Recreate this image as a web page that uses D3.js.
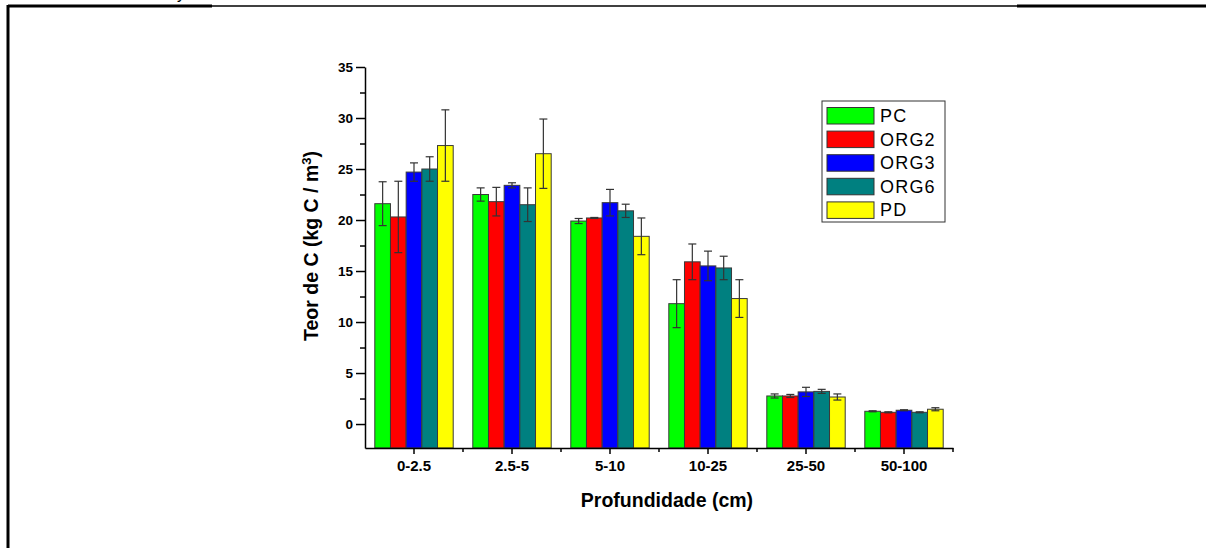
<!DOCTYPE html>
<html>
<head>
<meta charset="utf-8">
<script src="https://cdn.jsdelivr.net/npm/d3@7"></script>
<style>
  body { margin: 0; background: #fff; }
  svg { display: block; font-family: "Liberation Sans", Arial, sans-serif; }
</style>
</head>
<body>
<svg id="chart" width="1216" height="548"></svg>
<script>
// Depth classes (x categories)
var categories = ["0-2.5", "2.5-5", "5-10", "10-25", "25-50", "50-100"];
var seriesNames = ["PC", "ORG2", "ORG3", "ORG6", "PD"];
var seriesColors = ["#00ff00", "#ff0000", "#0000ff", "#008080", "#ffff00"];

// Means and error (half-width)
var pcValues   = [21.6, 22.5, 19.9, 11.8, 2.75, 1.25];
var pcErr      = [2.15, 0.65, 0.25, 2.35, 0.2, 0.05];
var org2Values = [20.3, 21.8, 20.2, 15.9, 2.75, 1.15];
var org2Err    = [3.5, 1.4, 0.05, 1.75, 0.15, 0.05];
var org3Values = [24.7, 23.4, 21.7, 15.5, 3.15, 1.35];
var org3Err    = [0.9, 0.25, 1.3, 1.45, 0.45, 0.05];
var org6Values = [25.0, 21.5, 20.9, 15.3, 3.2, 1.15];
var org6Err    = [1.2, 1.65, 0.65, 1.15, 0.2, 0.05];
var pdValues   = [27.3, 26.5, 18.4, 12.3, 2.65, 1.45];
var pdErr      = [3.5, 3.4, 1.8, 1.85, 0.3, 0.15];

var yTicks = [0, 5, 10, 15, 20, 25, 30, 35];
var yMinorTicks = [2.5, 7.5, 12.5, 17.5, 22.5, 27.5, 32.5];

var allValues = [pcValues, org2Values, org3Values, org6Values, pdValues];
var allErr    = [pcErr, org2Err, org3Err, org6Err, pdErr];

// Flatten into records for the bars
var records = [];
categories.forEach(function(cat, i) {
    seriesNames.forEach(function(s, j) {
        records.push({ cat: cat, series: s, value: allValues[j][i], err: allErr[j][i], color: seriesColors[j] });
    });
});

var svg = d3.select("#chart");

// Page frame (document border around the figure)
svg.append("line").attr("x1", 8).attr("x2", 212).attr("y1", 6).attr("y2", 6)
    .style("stroke", "#000").style("stroke-width", 3);
svg.append("line").attr("x1", 212).attr("x2", 1017).attr("y1", 6).attr("y2", 6)
    .style("stroke", "#000").style("stroke-width", 1.5);
svg.append("line").attr("x1", 1017).attr("x2", 1206).attr("y1", 6).attr("y2", 6)
    .style("stroke", "#000").style("stroke-width", 3);
svg.append("line").attr("x1", 8).attr("x2", 8).attr("y1", 5).attr("y2", 548)
    .style("stroke", "#000").style("stroke-width", 3);
svg.append("text").attr("x", 177).attr("y", -1).style("font-size", "16px").text("y");

// Plot area
var plotL = 365, plotR = 953, plotT = 67, plotB = 448;
var yMin = -2.35;

var x = d3.scaleBand().domain(categories).range([plotL, plotR]).paddingInner(0).paddingOuter(0);
var xInner = d3.scaleBand().domain(seriesNames)
    .range([x.bandwidth() * 0.1, x.bandwidth() * 0.9]).padding(0);
var y = d3.scaleLinear().domain([yMin, 35]).range([plotB, plotT]);

// Bars
var bars = svg.append("g");
bars.selectAll("rect")
    .data(records)
    .enter().append("rect")
    .attr("x", d => x(d.cat) + xInner(d.series))
    .attr("y", d => y(d.value))
    .attr("width", xInner.bandwidth())
    .attr("height", d => y(yMin) - y(d.value))
    .style("fill", d => d.color)
    .style("stroke", "#3a3a3a")
    .style("stroke-width", 1);

// Error bars
var errG = svg.append("g").style("stroke", "#333").style("stroke-width", 1.2);
records.forEach(function(d) {
    var cx = x(d.cat) + xInner(d.series) + xInner.bandwidth() / 2;
    var y1 = y(d.value + d.err), y2 = y(d.value - d.err);
    errG.append("line").attr("x1", cx).attr("x2", cx).attr("y1", y1).attr("y2", y2);
    errG.append("line").attr("x1", cx - 4).attr("x2", cx + 4).attr("y1", y1).attr("y2", y1);
    errG.append("line").attr("x1", cx - 4).attr("x2", cx + 4).attr("y1", y2).attr("y2", y2);
});

// Y axis
var yAxis = d3.axisLeft(y).tickValues(yTicks).tickSize(9).tickPadding(3).tickSizeOuter(0);
var yAxisG = svg.append("g").attr("transform", "translate(" + plotL + ",0)").call(yAxis);
yAxisG.selectAll("text").style("font-size", "13.5px").style("font-weight", "bold").style("font-family", "Liberation Sans, Arial, sans-serif");
yAxisG.selectAll("path, line").style("stroke", "#000").style("stroke-width", 1.5);

var yMinor = d3.axisLeft(y).tickValues(yMinorTicks).tickSize(5).tickFormat("");
var yMinorG = svg.append("g").attr("transform", "translate(" + plotL + ",0)").call(yMinor);
yMinorG.select(".domain").remove();
yMinorG.selectAll("line").style("stroke", "#000").style("stroke-width", 1.5);

// X axis
var xAxis = d3.axisBottom(x).tickSize(6).tickPadding(6).tickSizeOuter(0);
var xAxisG = svg.append("g").attr("transform", "translate(0," + plotB + ")").call(xAxis);
xAxisG.selectAll("text").style("font-size", "15px").style("font-weight", "bold").style("font-family", "Liberation Sans, Arial, sans-serif");
xAxisG.selectAll("path, line").style("stroke", "#000").style("stroke-width", 1.5);

// Minor ticks at the group boundaries
var boundaries = categories.slice(1).map(c => x(c)).concat([plotR]);
svg.append("g").selectAll("line")
    .data(boundaries)
    .enter().append("line")
    .attr("x1", d => d).attr("x2", d => d)
    .attr("y1", plotB).attr("y2", plotB + 4)
    .style("stroke", "#000").style("stroke-width", 1.5);

// Axis titles
svg.append("text")
    .attr("x", 667)
    .attr("y", 507)
    .attr("text-anchor", "middle")
    .style("font-size", "19.5px")
    .style("font-weight", "bold")
    .text("Profundidade (cm)");

var yTitle = svg.append("text")
    .attr("transform", "translate(318,246) rotate(-90)")
    .attr("text-anchor", "middle")
    .style("font-size", "19.5px")
    .style("font-weight", "bold");
yTitle.append("tspan").text("Teor de C (kg C / m");
yTitle.append("tspan").attr("dy", -7).style("font-size", "13px").text("3");
yTitle.append("tspan").attr("dy", 7).text(")");

// Legend
var legend = svg.append("g");
legend.append("rect")
    .attr("x", 822).attr("y", 101).attr("width", 123).attr("height", 121)
    .style("fill", "#fff").style("stroke", "#333").style("stroke-width", 1);
var rows = legend.selectAll("g.row")
    .data(seriesNames)
    .enter().append("g")
    .attr("class", "row")
    .attr("transform", (d, i) => "translate(827," + (107.5 + i * 23.6) + ")");
rows.append("rect")
    .attr("width", 47).attr("height", 16.5)
    .style("fill", (d, i) => seriesColors[i])
    .style("stroke", "#333").style("stroke-width", 1);
rows.append("text")
    .attr("x", 53).attr("y", 14.5)
    .style("font-size", "18px")
    .style("letter-spacing", "1.2px")
    .text(d => d);
</script>
</body>
</html>
